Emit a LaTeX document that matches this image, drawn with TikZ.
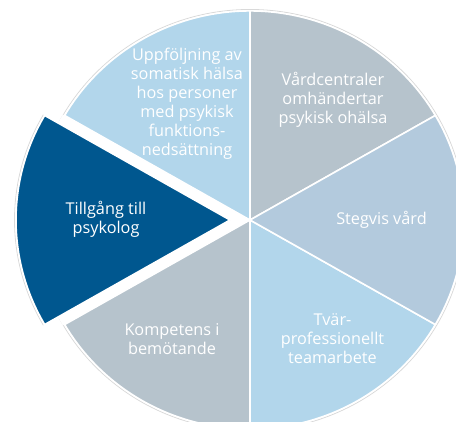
\documentclass[tikz,border=0pt]{standalone}
\usepackage{fontspec}
\setmainfont{Open Sans}

\definecolor{ljusbla}{HTML}{B2D6EB}
\definecolor{gragra}{HTML}{B6C3CC}
\definecolor{stalbla}{HTML}{B3CADD}
\definecolor{morkbla}{HTML}{00578F}

\begin{document}
\begin{tikzpicture}[x=0.75pt,y=0.75pt,
    font=\fontsize{12.2}{14.25}\selectfont,
    slice/.style={draw=white,line width=1.2pt,line join=round},
    label/.style={text=white,align=center,inner sep=0pt}]
    \clip (-250,-201) rectangle (206,220);
    % faint rim round the pie and round the pulled-out slice
    \begin{scope}[yscale=0.977]
      \draw[black!15,line width=0.6pt] (0,0) circle[radius=215.5];
      \draw[black!15,line width=0.6pt,xshift=-15pt] (150:215.5) arc[start angle=150,end angle=210,radius=215.5];
      \fill[white] (0,0) -- (150:216) arc[start angle=150,end angle=210,radius=216] -- cycle;
      \draw[slice,fill=gragra] (0,0) -- (30:214) arc[start angle=30,end angle=90,radius=214] -- cycle;
      \draw[slice,fill=ljusbla] (0,0) -- (90:214) arc[start angle=90,end angle=150,radius=214] -- cycle;
      \draw[slice,fill=morkbla,xshift=-15pt] (0,0) -- (150:214) arc[start angle=150,end angle=210,radius=214] -- cycle;
      \draw[slice,fill=gragra] (0,0) -- (210:214) arc[start angle=210,end angle=270,radius=214] -- cycle;
      \draw[slice,fill=ljusbla] (0,0) -- (270:214) arc[start angle=270,end angle=330,radius=214] -- cycle;
      \draw[slice,fill=stalbla] (0,0) -- (330:214) arc[start angle=330,end angle=390,radius=214] -- cycle;
    \end{scope}
    \node[label] (uppf) at (-63,116.5) {Uppföljning av\\somatisk hälsa\\hos personer\\med psykisk\\funktions-\\nedsättning};
    \node[label] (vardc) at (83,120) {Vårdcentraler\\omhändertar\\psykisk ohälsa};
    \node[label] (stegvis) at (131.5,0) {Stegvis vård};
    \node[label] (tvar) at (82.5,-119) {Tvär-\\professionellt\\teamarbete};
    \node[label] (komp) at (-78,-119) {Kompetens i\\bemötande};
    \node[label] (tillg) at (-144,1) {Tillgång till\\psykolog};
  \end{tikzpicture}
\end{document}
